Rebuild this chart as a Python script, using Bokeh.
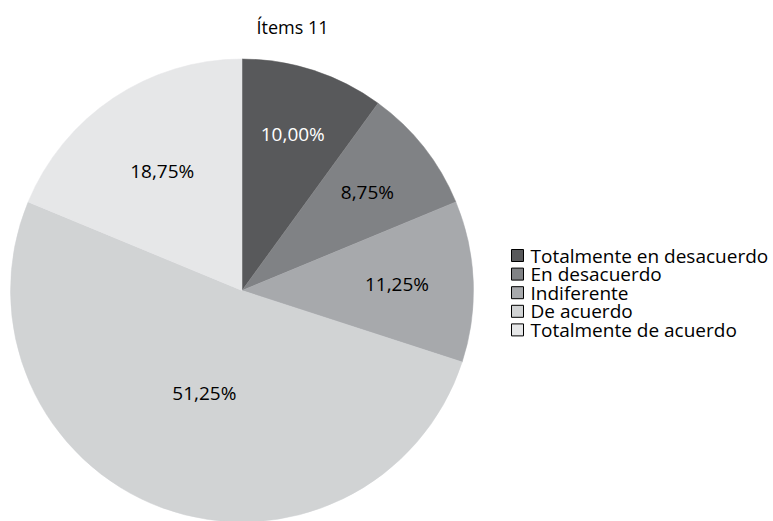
import math
from bokeh.plotting import figure
from bokeh.models import Range1d, ColumnDataSource
from bokeh.core.properties import value
from bokeh.embed import file_html
from bokeh.resources import INLINE

title = "Ítems 11"
categories = ["Totalmente en desacuerdo", "En desacuerdo", "Indiferente",
              "De acuerdo", "Totalmente de acuerdo"]
percentages = [10.00, 8.75, 11.25, 51.25, 18.75]
colors = ["#58595b", "#808285", "#a7a9ac", "#d1d3d4", "#e6e7e8"]
label_colors = ["white", "black", "black", "black", "black"]
label_radius = [0.71, 0.69, 0.67, 0.47, 0.62]

W, H = 773, 521
FONT = "Open Sans"

p = figure(width=W, height=H, output_backend="svg", toolbar_location=None,
           x_range=Range1d(0, W), y_range=Range1d(0, H), min_border=0)
p.axis.visible = False
p.grid.visible = False
p.outline_line_color = None

cx, cy, r = 241.5, H - 290, 231.5
total = sum(percentages)
starts, ends, lx, ly, labels = [], [], [], [], []
cum = 0.0
for i, v in enumerate(percentages):
    a0 = math.pi / 2 - 2 * math.pi * cum / total
    a1 = math.pi / 2 - 2 * math.pi * (cum + v) / total
    starts.append(a0)
    ends.append(a1)
    mid = (a0 + a1) / 2
    lx.append(cx + label_radius[i] * r * math.cos(mid))
    ly.append(cy + label_radius[i] * r * math.sin(mid))
    labels.append(f"{v:.2f}".replace(".", ",") + "%")
    cum += v

src = ColumnDataSource(dict(start=starts, end=ends, color=colors,
                            lx=lx, ly=ly, label=labels, lc=label_colors))
p.wedge(x=cx, y=cy, radius=r, start_angle="start", end_angle="end",
        direction="clock", fill_color="color", line_color="color",
        line_width=0.5, source=src)
p.text(x="lx", y="ly", text="label", text_color="lc", source=src,
       text_align="center", text_baseline="middle",
       text_font=value(FONT), text_font_size="19px")

# title
p.text(x=[292], y=[H - 26], text=[title], text_align="center",
       text_baseline="middle", text_font=value(FONT), text_font_size="18px",
       text_color="black")

# legend
n = len(categories)
leg_y = [H - (255 + 18.6 * i) for i in range(n)]
p.rect(x=[517] * n, y=leg_y, width=12, height=12, fill_color=colors,
       line_color="black", line_width=1)
p.text(x=[530] * n, y=leg_y, text=categories, text_align="left",
       text_baseline="middle", text_font=value(FONT), text_font_size="19px",
       text_color="black")

open("out.html", "w").write(file_html(p, INLINE))
